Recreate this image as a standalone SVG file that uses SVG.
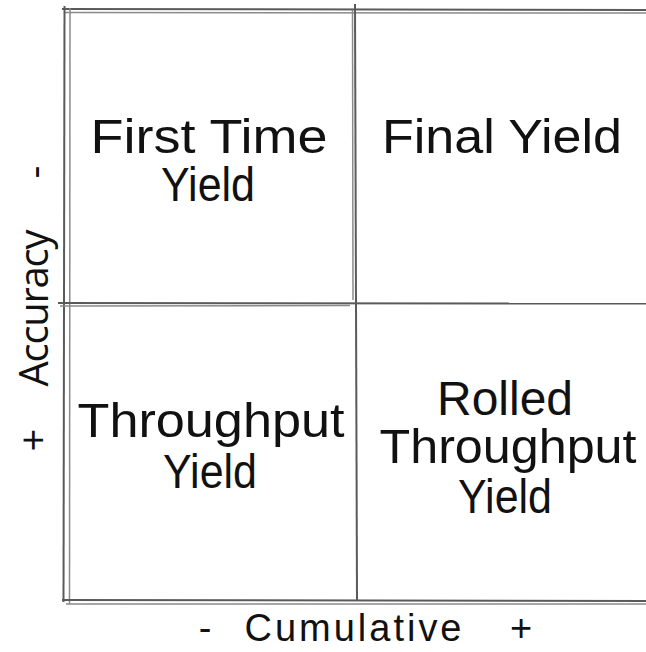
<svg xmlns="http://www.w3.org/2000/svg" width="646" height="652" viewBox="0 0 646 652">
<style>
.ln{stroke:#5a5a5a;stroke-width:2;fill:none}
.ln2{stroke:#8a8a8a;stroke-width:1.5;fill:none}
.hw{font-family:"Liberation Sans","DejaVu Sans",sans-serif;font-size:48px;fill:#111;text-anchor:middle}
.ax{font-family:"Open Sans","Liberation Sans",sans-serif;font-size:40px;fill:#111;text-anchor:middle}
.bx{font-family:"Liberation Sans","DejaVu Sans",sans-serif;font-size:38px;fill:#111;text-anchor:middle}
</style>
<rect width="646" height="652" fill="#fff"/>
<g id="connectors">
<line class="ln" x1="62" y1="9" x2="646" y2="10"/>
<line class="ln2" x1="64" y1="12.5" x2="646" y2="13"/>
<line class="ln" x1="64.5" y1="6" x2="63.5" y2="602"/>
<line class="ln2" x1="70" y1="8" x2="69.5" y2="604"/>
<line class="ln" x1="355" y1="4" x2="357" y2="600"/>
<line class="ln2" x1="352.5" y1="10" x2="353" y2="300"/>
<line class="ln" x1="58" y1="303" x2="646" y2="303.5"/>
<line class="ln2" x1="60" y1="306" x2="350" y2="305.5"/>
<line class="ln" x1="62" y1="600" x2="646" y2="601"/>
<line class="ln2" x1="66" y1="604" x2="646" y2="604"/>
</g>
<g id="first-time-yield">
<text class="hw" x="209" y="153" textLength="237" lengthAdjust="spacingAndGlyphs">First Time</text>
<text class="hw" x="208" y="201" textLength="94" lengthAdjust="spacingAndGlyphs">Yield</text>
</g>
<g id="final-yield">
<text class="hw" x="502" y="153" textLength="240" lengthAdjust="spacingAndGlyphs">Final Yield</text>
</g>
<g id="throughput-yield">
<text class="hw" x="211" y="437" textLength="267" lengthAdjust="spacingAndGlyphs">Throughput</text>
<text class="hw" x="210" y="488" textLength="94" lengthAdjust="spacingAndGlyphs">Yield</text>
</g>
<g id="rolled-throughput-yield">
<text class="hw" x="505" y="415" textLength="136" lengthAdjust="spacingAndGlyphs">Rolled</text>
<text class="hw" x="508" y="463" textLength="257" lengthAdjust="spacingAndGlyphs">Throughput</text>
<text class="hw" x="505" y="513" textLength="94" lengthAdjust="spacingAndGlyphs">Yield</text>
</g>
<g id="y-axis">
<text class="ax" transform="translate(48,308) rotate(-90)" textLength="157">Accuracy</text>
<text class="ax" transform="translate(48,172) rotate(-90)">-</text>
<text class="ax" transform="translate(48,440) rotate(-90)">+</text>
</g>
<g id="x-axis">
<text class="bx" x="205" y="641">-</text>
<text class="bx" x="353" y="641" textLength="217">Cumulative</text>
<text class="bx" x="521" y="641">+</text>
</g>
</svg>
